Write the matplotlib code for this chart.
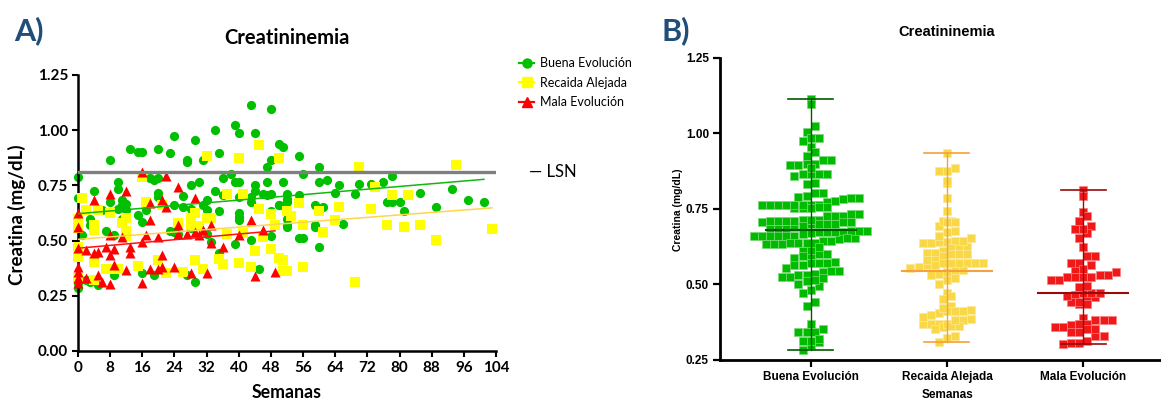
import numpy as np
import matplotlib
matplotlib.use('Agg')
import matplotlib.pyplot as plt
from matplotlib.lines import Line2D

plt.rcParams['font.family'] = ['Lato', 'DejaVu Sans']

# ---------------- datos ----------------
grupos = ['Buena Evolución', 'Recaida Alejada', 'Mala Evolución']

sem_buena = [0, 4, 8, 10, 10, 13, 15, 16, 18, 19,
             20, 20, 20, 20, 23, 24, 27, 27, 28, 29,
             30, 31, 34, 34, 35, 36, 38, 39, 39, 40,
             40, 43, 44, 44, 44, 47, 47, 48, 48, 50,
             51, 51, 55, 56, 60, 60, 62, 65, 70, 73,
             76, 78, 85, 93, 97, 101, 0, 11, 11, 10,
             17, 24, 26, 32, 36, 43, 46, 47, 48, 52,
             52, 52, 55, 59, 61, 64, 69, 40, 50, 35,
             40, 48, 52, 59, 66, 77, 80, 81, 89, 0,
             0, 1, 3, 5, 7, 9, 16, 19, 23, 24,
             27, 29, 3, 16, 28, 33, 12, 40, 52, 59,
             48, 43, 55, 60, 39, 35, 45, 32, 6, 3,
             9, 8, 12, 12, 11, 15, 17, 26, 25, 28,
             31, 32, 40, 43, 50, 52, 56, 78, 0, 2]
cre_buena = [0.790, 0.725, 0.865, 0.764, 0.734, 0.913, 0.900, 0.900, 0.785, 0.775,
             0.785, 0.913, 0.714, 0.699, 0.895, 0.975, 0.865, 0.858, 0.752, 0.956,
             0.764, 0.865, 1.003, 0.725, 0.896, 0.784, 0.803, 1.025, 0.764, 0.764,
             0.986, 1.114, 0.986, 0.752, 0.725, 0.832, 0.764, 1.096, 0.865, 0.937,
             0.926, 0.764, 0.885, 0.803, 0.835, 0.764, 0.774, 0.752, 0.755, 0.755,
             0.764, 0.794, 0.714, 0.734, 0.684, 0.674, 0.694, 0.684, 0.661, 0.645,
             0.669, 0.661, 0.701, 0.684, 0.706, 0.699, 0.709, 0.706, 0.709, 0.709,
             0.690, 0.675, 0.708, 0.661, 0.651, 0.714, 0.709, 0.699, 0.661, 0.634,
             0.609, 0.634, 0.570, 0.570, 0.575, 0.674, 0.674, 0.634, 0.654, 0.284,
             0.427, 0.525, 0.314, 0.300, 0.545, 0.344, 0.352, 0.344, 0.545, 0.540,
             0.344, 0.314, 0.570, 0.586, 0.555, 0.495, 0.535, 0.595, 0.563, 0.563,
             0.521, 0.503, 0.513, 0.472, 0.483, 0.442, 0.370, 0.530, 0.638, 0.597,
             0.524, 0.676, 0.668, 0.638, 0.600, 0.615, 0.638, 0.653, 0.530, 0.645,
             0.660, 0.638, 0.625, 0.676, 0.660, 0.600, 0.510, 0.676, 0.310, 0.320]

sem_recaida = [16, 32, 1, 2, 5, 8, 12, 17, 21, 28,
               29, 32, 45, 40, 50, 37, 41, 45, 48, 52,
               53, 55, 60, 65, 49, 56, 64, 33, 70, 94,
               74, 78, 82, 73, 77, 81, 85, 89, 103, 69,
               0, 0, 0, 4, 4, 4, 7, 8, 10, 12,
               11, 15, 20, 22, 26, 29, 31, 25, 28, 30,
               37, 41, 46, 44, 48, 50, 51, 35, 36, 40,
               43, 51, 52, 56, 61, 0, 0, 4, 12]
cre_recaida = [0.787, 0.885, 0.694, 0.639, 0.639, 0.624, 0.604, 0.676, 0.661, 0.604,
               0.624, 0.601, 0.934, 0.876, 0.876, 0.709, 0.709, 0.643, 0.620, 0.636,
               0.611, 0.672, 0.636, 0.654, 0.570, 0.570, 0.593, 0.601, 0.835, 0.842,
               0.744, 0.705, 0.705, 0.643, 0.571, 0.563, 0.571, 0.503, 0.553, 0.311,
               0.472, 0.427, 0.556, 0.548, 0.404, 0.322, 0.370, 0.370, 0.370, 0.545,
               0.580, 0.384, 0.411, 0.352, 0.360, 0.413, 0.370, 0.580, 0.570, 0.565,
               0.530, 0.535, 0.515, 0.453, 0.462, 0.422, 0.412, 0.415, 0.393, 0.400,
               0.382, 0.364, 0.364, 0.382, 0.540, 0.330, 0.600, 0.570, 0.520]

sem_mala = [16, 22, 25, 29, 8, 12, 4, 18, 21, 22,
            0, 18, 43, 46, 0, 0, 0, 0, 0, 0,
            2, 4, 5, 7, 8, 8, 9, 9, 5, 6,
            2, 8, 11, 12, 13, 13, 16, 16, 17, 18,
            20, 20, 21, 21, 24, 25, 25, 27, 28, 29,
            30, 32, 33, 33, 40, 36, 44, 49, 31]
cre_mala = [0.812, 0.793, 0.741, 0.692, 0.710, 0.725, 0.684, 0.669, 0.684, 0.654,
            0.624, 0.594, 0.594, 0.550, 0.563, 0.382, 0.359, 0.329, 0.306, 0.465,
            0.457, 0.442, 0.450, 0.472, 0.525, 0.435, 0.462, 0.390, 0.344, 0.314,
            0.329, 0.303, 0.515, 0.367, 0.472, 0.442, 0.306, 0.495, 0.525, 0.370,
            0.370, 0.515, 0.435, 0.382, 0.382, 0.571, 0.530, 0.530, 0.352, 0.540,
            0.525, 0.352, 0.571, 0.490, 0.525, 0.472, 0.341, 0.359, 0.550]

lsn = 0.81
linea_central = [0.68, 0.545, 0.47]

semanas = [sem_buena, sem_recaida, sem_mala]
creatina = [cre_buena, cre_recaida, cre_mala]

# ---------------- estilos ----------------
col_a = ['#00c000', '#ffff00', '#ff0000']
col_tend = ['#10b810', '#ffd54a', '#ff1010']
marcas = ['o', 's', '^']
tam = [44, 44, 52]
col_b = ['#00bb00', '#f8d848', '#f01818']
col_borde_b = ['#7ad87a', '#fbe89a', '#f88080']
col_lin_b = ['#005a00', '#f7a03c', '#9a0a0a']
azul = '#1f4e79'
arial = ['Liberation Sans', 'DejaVu Sans']

fig = plt.figure(figsize=(11.61, 4.01), dpi=100)

# ================= panel A =================
axA = fig.add_axes([78 / 1161, 1 - 351 / 401, 418 / 1161, 276 / 401])
for i in range(3):
    axA.scatter(semanas[i], creatina[i], marker=marcas[i], s=tam[i],
                color=col_a[i], linewidths=0, zorder=2 + i, clip_on=False)
for i in range(3):
    x = np.array(semanas[i], float)
    y = np.array(creatina[i], float)
    m, b = np.polyfit(x, y, 1)
    xs = np.array([x.min(), x.max()])
    axA.plot(xs, m * xs + b, color=col_tend[i], lw=1.1, zorder=6)
axA.axhline(lsn, color='#7f7f7f', lw=2.4, zorder=7)

axA.set_xlim(0, 104)
axA.set_ylim(0, 1.25)
axA.set_xticks(np.arange(0, 105, 8))
axA.set_yticks(np.arange(0, 1.26, 0.25))
axA.set_yticklabels(['%.2f' % v for v in np.arange(0, 1.26, 0.25)])
for s in ['top', 'right']:
    axA.spines[s].set_visible(False)
for s in ['left', 'bottom']:
    axA.spines[s].set_linewidth(1.8)
axA.tick_params(direction='out', length=4, width=1.5, labelsize=11, pad=3)
for t in axA.get_xticklabels() + axA.get_yticklabels():
    t.set_fontweight('bold')

fig.text(287 / 1161, 1 - 38 / 401, 'Creatininemia', ha='center', va='center',
         fontsize=14.5, fontweight='bold')
fig.text(287 / 1161, 1 - 393 / 401, 'Semanas', ha='center', va='center',
         fontsize=12.8, fontweight='bold')
fig.text(17 / 1161, 1 - 215 / 401, 'Creatina (mg/dL)', ha='center', va='center',
         rotation=90, fontsize=13.5, fontweight='bold')
fig.text(14 / 1161, 1 - 31 / 401, 'A)', ha='left', va='center',
         fontsize=22, fontweight='bold', color=azul)

manejadores = [Line2D([0], [0], color=col_a[i], marker=marcas[i], markersize=6.5,
                      lw=1.6) for i in range(3)]
fig.legend(manejadores, grupos, loc='upper left',
           bbox_to_anchor=(519 / 1161, 1 - 57 / 401), frameon=False, fontsize=9,
           handlelength=1.2, handletextpad=0.5, labelspacing=0.62,
           borderaxespad=0, borderpad=0)
fig.text(529 / 1161, 1 - 172 / 401, '— LSN', ha='left', va='center', fontsize=12)

# ================= panel B =================
axB = fig.add_axes([720 / 1161, 1 - 360 / 401, 441 / 1161, 302.3 / 401])


def enjambre(valores, alto, ancho):
    v = np.asarray(valores, float)
    fila = np.floor((v - v.min()) / alto).astype(int)
    dx = np.zeros(len(v))
    for f in np.unique(fila):
        idx = np.where(fila == f)[0]
        idx = idx[np.argsort(v[idx])]
        n = len(idx)
        dx[idx] = (np.arange(n) - (n - 1) / 2) * ancho
    return dx


for i in range(3):
    y = np.array(creatina[i], float)
    dx = enjambre(y, 0.0265, 0.0595)
    axB.scatter(i + dx, y, marker='s', s=36, color=col_b[i],
                edgecolors=col_borde_b[i], linewidths=0.5, zorder=2, clip_on=False)
    axB.plot([i, i], [y.min(), y.max()], color=col_lin_b[i], lw=1.0, zorder=3)
    for extremo in (y.min(), y.max()):
        axB.plot([i - 0.165, i + 0.165], [extremo, extremo], color=col_lin_b[i],
                 lw=1.2, zorder=3)
    axB.plot([i - 0.33, i + 0.33], [linea_central[i]] * 2, color=col_lin_b[i],
             lw=1.5, zorder=3)

axB.set_xlim(-0.665, 2.57)
axB.set_ylim(0.25, 1.25)
axB.set_xticks([0, 1, 2])
axB.set_xticklabels(grupos)
axB.set_yticks(np.arange(0.25, 1.26, 0.25))
axB.set_yticklabels(['%.2f' % v for v in np.arange(0.25, 1.26, 0.25)])
for s in ['top', 'right']:
    axB.spines[s].set_visible(False)
for s in ['left', 'bottom']:
    axB.spines[s].set_linewidth(2)
axB.tick_params(direction='out', length=5, width=1.6, labelsize=8.5, pad=3)
for t in axB.get_xticklabels() + axB.get_yticklabels():
    t.set_fontweight('bold')
    t.set_family(arial)

fig.text(947 / 1161, 1 - 32 / 401, 'Creatininemia', ha='center', va='center',
         fontsize=10.5, fontweight='bold', family=arial)
fig.text(947 / 1161, 1 - 395 / 401, 'Semanas', ha='center', va='center',
         fontsize=8.5, fontweight='bold', family=arial)
fig.text(678 / 1161, 1 - 210 / 401, 'Creatina (mg/dL)', ha='center', va='center',
         rotation=90, fontsize=7.5, fontweight='bold', family=arial)
fig.text(662 / 1161, 1 - 31 / 401, 'B)', ha='left', va='center',
         fontsize=22, fontweight='bold', color=azul)

fig.savefig('out.png', dpi=100)
